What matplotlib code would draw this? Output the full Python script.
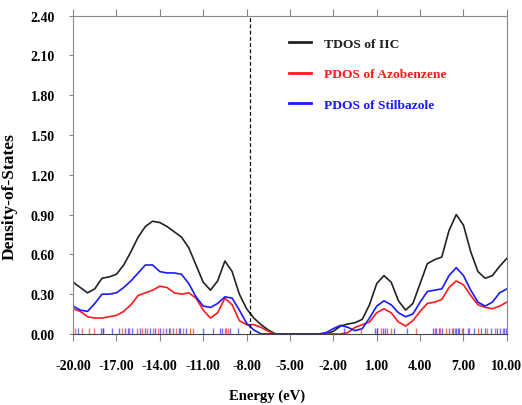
import numpy as np
import matplotlib.pyplot as plt

plt.rcParams['font.family'] = ['Liberation Serif', 'DejaVu Serif']
plt.rcParams['font.weight'] = 'bold'

# energy grid (eV), values every 0.5 eV
energy = np.arange(-20.0, 10.01, 0.5)

tdos = [0.39, 0.35, 0.31, 0.34, 0.42, 0.43, 0.45, 0.52, 0.62, 0.73,
        0.81, 0.85, 0.84, 0.81, 0.77, 0.73, 0.65, 0.52, 0.39, 0.33,
        0.40, 0.55, 0.47, 0.30, 0.19, 0.12, 0.07, 0.03, 0.0, 0.0,
        0.0, 0.0, 0.0, 0.0, 0.0, 0.0, 0.02, 0.06, 0.075, 0.085,
        0.11, 0.22, 0.38, 0.44, 0.39, 0.25, 0.18, 0.23, 0.38, 0.53,
        0.56, 0.58, 0.78, 0.90, 0.82, 0.62, 0.47, 0.42, 0.44, 0.51,
        0.57]

pdos_azo = [0.19, 0.17, 0.13, 0.12, 0.12, 0.13, 0.14, 0.17, 0.22, 0.29,
            0.31, 0.33, 0.36, 0.35, 0.31, 0.30, 0.31, 0.27, 0.18, 0.12,
            0.16, 0.27, 0.22, 0.10, 0.07, 0.07, 0.05, 0.02, 0.0, 0.0,
            0.0, 0.0, 0.0, 0.0, 0.0, 0.0, 0.0, 0.0, 0.01, 0.05,
            0.07, 0.09, 0.16, 0.19, 0.16, 0.09, 0.06, 0.10, 0.17, 0.23,
            0.24, 0.26, 0.35, 0.40, 0.37, 0.29, 0.22, 0.20, 0.19, 0.21,
            0.24]

pdos_stil = [0.21, 0.18, 0.17, 0.23, 0.30, 0.30, 0.31, 0.35, 0.40, 0.46,
             0.52, 0.52, 0.47, 0.46, 0.46, 0.45, 0.38, 0.28, 0.21, 0.20,
             0.23, 0.28, 0.27, 0.18, 0.08, 0.03, 0.0, 0.0, 0.0, 0.0,
             0.0, 0.0, 0.0, 0.0, 0.0, 0.01, 0.04, 0.065, 0.05, 0.025,
             0.04, 0.12, 0.21, 0.25, 0.22, 0.16, 0.13, 0.15, 0.24, 0.32,
             0.33, 0.34, 0.44, 0.50, 0.44, 0.33, 0.24, 0.21, 0.24, 0.31,
             0.34]

# eigenvalue sticks along the baseline
red_sticks = [-19.86, -19.4, -18.87, -18.55, -16.6, -16.1, -15.6, -15.2, -14.9,
              -14.5, -14.1, -13.8, -13.3, -12.9, -12.4, -11.9, -11.7, -9.5,
              -9.45, -9.3, -0.1, 1.0, 1.3, 1.7, 2.0, 3.75, 5.0, 5.4, 5.8, 6.2,
              6.4, 6.9, 7.4, 8.0, 8.6, 9.2, 9.7]
blue_sticks = [-19.63, -18.09, -17.95, -17.9, -17.33, -16.8, -16.4, -16.2, -15.9,
               -15.4, -15.0, -14.7, -14.3, -14.0, -13.6, -13.4, -13.1, -12.7,
               -12.6, -12.2, -11.0, -10.3, -9.84, -9.7, -9.15, -8.57, -1.27,
               0.87, 1.0, 1.45, 1.6, 2.2, 3.06, 4.9, 5.1, 5.3, 5.5, 6.0, 6.3,
               6.5, 6.6, 6.7, 7.0, 7.3, 7.7, 8.2, 8.5, 8.9, 9.3, 9.5, 9.8, 9.95]

fermi = -7.75
xticks = [-20, -17, -14, -11, -8, -5, -2, 1, 4, 7, 10]
yticks = [0.0, 0.3, 0.6, 0.9, 1.2, 1.5, 1.8, 2.1, 2.4]

fig = plt.figure(figsize=(5.22, 4.06), dpi=100)
ax = fig.add_axes([0.140, 0.175, 0.831, 0.784])

ax.plot(energy, tdos, color='#222222', lw=1.2, label='TDOS of IIC')
ax.plot(energy, pdos_azo, color='#ff1a1a', lw=1.2, label='PDOS of Azobenzene')
ax.plot(energy, pdos_stil, color='#1a1aff', lw=1.2, label='PDOS of Stilbazole')

ax.vlines(red_sticks, 0, 0.045, color='#ff3333', lw=1.0, alpha=0.7)
ax.vlines(blue_sticks, 0, 0.045, color='#3333ff', lw=1.0, alpha=0.7)
ax.axvline(fermi, color='black', lw=0.9, ls=(0, (3, 2)))

ax.set_xlim(-20, 10)
ax.set_ylim(0, 2.4)
ax.set_xticks(xticks)
ax.set_xticklabels([f'{v:.2f}' for v in xticks])
ax.set_yticks(yticks)
ax.set_yticklabels([f'{v:.2f}' for v in yticks])
ax.tick_params(axis='x', direction='out', length=5, pad=13, labelsize=10,
               top=True, color='#888888')
ax.tick_params(axis='y', direction='out', length=3, pad=10, labelsize=10,
               color='#888888')

for side in ['left', 'right', 'top']:
    ax.spines[side].set_color('#888888')
ax.spines['bottom'].set_color('#444444')

ax.set_xlabel('Energy (eV)', fontsize=10.5, fontweight='bold')
ax.xaxis.set_label_coords(0.448, -0.17)
ax.set_ylabel('Density-of-States', fontsize=12.5, fontweight='bold')
ax.yaxis.set_label_coords(-0.127, 0.434)

leg = ax.legend(loc='upper left', bbox_to_anchor=(0.47, 0.97), frameon=False,
                fontsize=9.7, handlelength=1.6, labelspacing=1.35,
                handletextpad=1.0)
for text, line in zip(leg.get_texts(), leg.get_lines()):
    text.set_color(line.get_color())
    line.set_linewidth(2)

fig.savefig('out.png', dpi=100)
